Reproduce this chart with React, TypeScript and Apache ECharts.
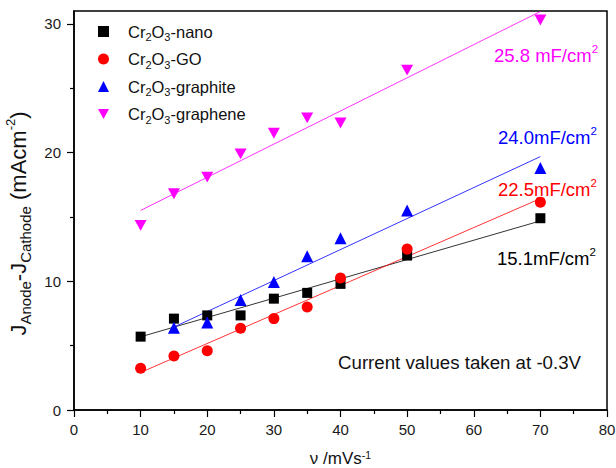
import React, { useEffect, useRef } from "react";
import * as echarts from "echarts";

// ---- data ----
const scanRates = [10, 15, 20, 25, 30, 35, 40, 50, 70];
const graphiteRates = [15, 20, 25, 30, 35, 40, 50, 70];
const nanoValues = [5.7, 7.1, 7.35, 7.35, 8.65, 9.1, 9.8, 12.0, 14.9];
const goValues = [3.25, 4.2, 4.6, 6.35, 7.1, 8.0, 10.25, 12.5, 16.15];
const graphiteValues = [6.4, 6.8, 8.55, 9.95, 11.95, 13.35, 15.5, 18.8];
const grapheneValues = [14.35, 16.8, 18.1, 19.9, 21.5, 22.7, 22.3, 26.4, 30.3];
const seriesNames = ["Cr2O3-nano", "Cr2O3-GO", "Cr2O3-graphite", "Cr2O3-graphene"];
const seriesColors = ["#000000", "#ff0000", "#0000ff", "#ff00ff"];
const capacitanceLabels = ["15.1mF/cm", "22.5mF/cm", "24.0mF/cm", "25.8 mF/cm"];
const noteText = "Current values taken at -0.3V";
const yMajorTicks = [0, 10, 20, 30];
const yMinorTicks = [5, 15, 25];

const FONT = "'Liberation Sans', Arial, sans-serif";

function fit(xs: number[], ys: number[]) {
  const n = xs.length;
  const mx = xs.reduce((a, b) => a + b, 0) / n;
  const my = ys.reduce((a, b) => a + b, 0) / n;
  let sxy = 0;
  let sxx = 0;
  for (let i = 0; i < n; i++) {
    sxy += (xs[i] - mx) * (ys[i] - my);
    sxx += (xs[i] - mx) * (xs[i] - mx);
  }
  const b = sxy / sxx;
  const a = my - b * mx;
  const x0 = xs[0];
  const x1 = xs[n - 1];
  return [
    [x0, a + b * x0],
    [x1, a + b * x1],
  ];
}

const legendRich = (name: string) => {
  const m = name.match(/^Cr2O3(.*)$/);
  const rest = m ? m[1] : name;
  return `{n|Cr}{sub|2}{n|O}{sub|3}{n|${rest}}`;
};

export default function App() {
  const ref = useRef<HTMLDivElement>(null);
  useEffect(() => {
    if (!ref.current) return;
    const chart = echarts.init(ref.current, undefined, { renderer: "svg" });

    const groups = [
      { xs: scanRates, ys: nanoValues, symbol: "rect", size: 10 },
      { xs: scanRates, ys: goValues, symbol: "circle", size: 11 },
      { xs: graphiteRates, ys: graphiteValues, symbol: "triangle", size: 12 },
      { xs: scanRates, ys: grapheneValues, symbol: "path://M0,0L10,0L5,9Z", size: 12 },
    ];

    const scatterSeries = groups.map((g, i) => ({
      name: seriesNames[i],
      type: "scatter",
      symbol: g.symbol,
      symbolSize: g.size,
      symbolKeepAspect: true,
      itemStyle: { color: seriesColors[i], opacity: 1 },
      data: g.xs.map((x, j) => [x, g.ys[j]]),
      z: 5,
    }));

    const lineSeries = groups.map((g, i) => ({
      name: seriesNames[i] + " fit",
      type: "line",
      showSymbol: false,
      symbol: "none",
      silent: true,
      lineStyle: { color: seriesColors[i], width: 1, opacity: 0.8 },
      data: fit(g.xs, g.ys),
      z: 3,
    }));

    const subRich = {
      n: { fontSize: 16.5, fontFamily: FONT, color: "#111", lineHeight: 22 },
      sub: { fontSize: 11, fontFamily: FONT, color: "#111", lineHeight: 11, verticalAlign: "bottom" },
    };

    const annRich = (color: string) => ({
      n: { fontSize: 18.5, fontFamily: FONT, fill: color, lineHeight: 24 },
      sup: { fontSize: 11.5, fontFamily: FONT, fill: color, lineHeight: 11, verticalAlign: "top" },
    });

    const annPos = [
      { x: 497, y: 258 },
      { x: 498, y: 189 },
      { x: 498, y: 137 },
      { x: 494, y: 55 },
    ];

    const option: any = {
      animation: false,
      backgroundColor: "#ffffff",
      grid: {
        left: 74,
        right: 9,
        top: 11,
        bottom: 58,
        containLabel: false,
        outerBoundsMode: "none",
        show: true,
        borderColor: "#000",
        borderWidth: 1.5,
        backgroundColor: "transparent",
      },
      legend: {
        data: seriesNames,
        orient: "vertical",
        left: 98,
        top: 23,
        padding: 0,
        itemWidth: 11,
        itemHeight: 11,
        itemGap: 8,
        formatter: legendRich,
        textStyle: { rich: subRich, padding: [0, 0, 0, 14] },
      },
      xAxis: {
        type: "value",
        min: 0,
        max: 80,
        interval: 10,
        axisLine: { show: true, onZero: false, lineStyle: { color: "#000", width: 1.5 } },
        axisTick: { show: true, length: 7, lineStyle: { color: "#000", width: 1.2 } },
        minorTick: { show: true, splitNumber: 2, length: 4, lineStyle: { color: "#000", width: 1.2 } },
        axisLabel: { fontSize: 15, fontFamily: FONT, color: "#1a1a1a", margin: 12 },
        splitLine: { show: false },
        name: "{n|ν /mVs}{sup|-1}",
        nameLocation: "middle",
        nameGap: 39,
        nameTextStyle: {
          rich: {
            n: { fontSize: 17, fontFamily: FONT, color: "#111", lineHeight: 18 },
            sup: { fontSize: 10.5, fontFamily: FONT, color: "#111", lineHeight: 8, verticalAlign: "top" },
          },
        },
      },
      yAxis: [
        {
          type: "value",
          min: 0,
          max: 31,
          position: "left",
          axisLine: { show: true, onZero: false, lineStyle: { color: "#000", width: 1.5 } },
          axisTick: { show: true, length: 7, customValues: yMajorTicks, lineStyle: { color: "#000", width: 1.2 } },
          axisLabel: { customValues: yMajorTicks, fontSize: 15, fontFamily: FONT, color: "#1a1a1a", margin: 13 },
          splitLine: { show: false },
          name: "{n|J}{sub|Anode}{n|-J}{sub|Cathode}{n| (mAcm}{sup|-2}{n|)}",
          nameLocation: "middle",
          nameGap: 18,
          nameRotate: 90,
          nameTextStyle: {
            padding: [0, 26, 0, 0],
            rich: {
              n: { fontSize: 22, fontFamily: FONT, color: "#111", lineHeight: 29 },
              sub: { fontSize: 15, fontFamily: FONT, color: "#111", lineHeight: 15, verticalAlign: "bottom" },
              sup: { fontSize: 13, fontFamily: FONT, color: "#111", lineHeight: 13, verticalAlign: "top" },
            },
          },
        },
        {
          type: "value",
          min: 0,
          max: 31,
          position: "left",
          axisLine: { show: false },
          axisTick: { show: true, length: 4, customValues: yMinorTicks, lineStyle: { color: "#000", width: 1.2 } },
          axisLabel: { show: false },
          splitLine: { show: false },
        },
      ],
      graphic: [
        ...capacitanceLabels.map((t, i) => ({
          type: "text",
          x: annPos[i].x,
          y: annPos[i].y,
          style: {
            text: `{n|${t}}{sup|2}`,
            rich: annRich(seriesColors[i]),
            align: "left",
            verticalAlign: "middle",
          },
        })),
        {
          type: "text",
          x: 338,
          y: 362,
          style: {
            text: noteText,
            fontSize: 18.7,
            fontFamily: FONT,
            fill: "#111",
            align: "left",
            verticalAlign: "middle",
          },
        },
      ],
      series: [...lineSeries, ...scatterSeries],
    };

    chart.setOption(option);
    return () => chart.dispose();
  }, []);

  return <div ref={ref} style={{ width: 616, height: 468, position: "absolute", left: 0, top: 0 }} />;
}
